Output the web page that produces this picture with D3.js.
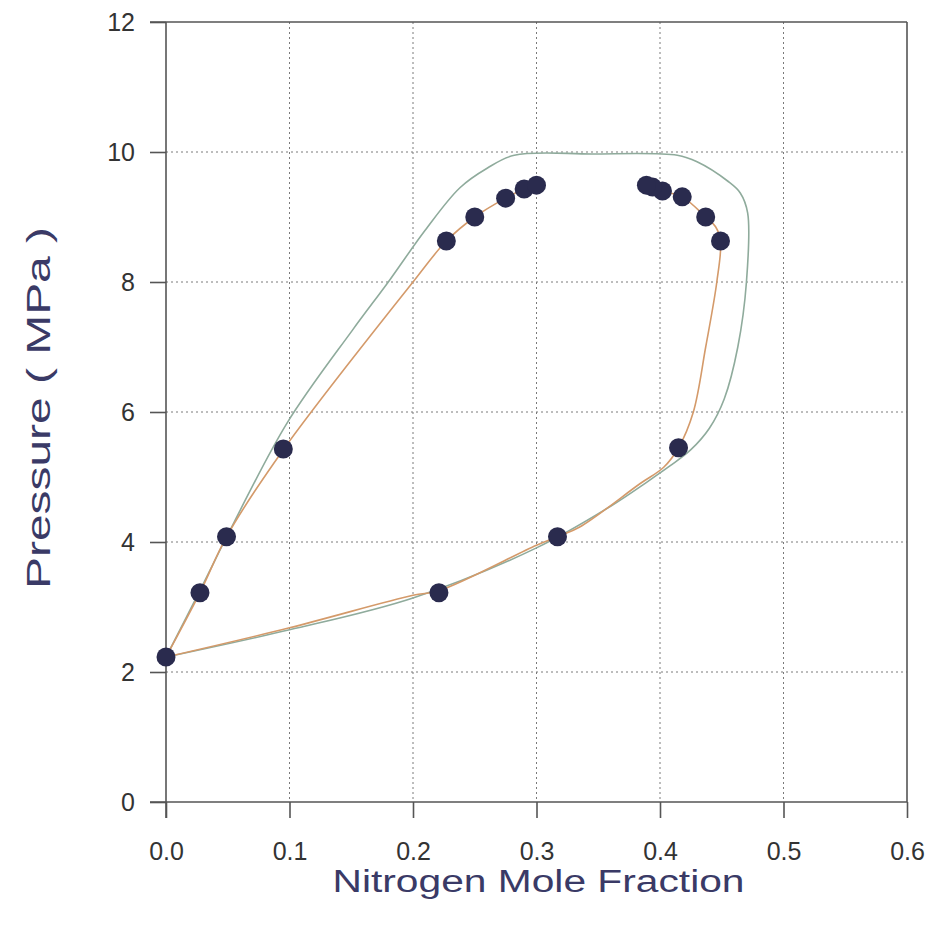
<!DOCTYPE html>
<html>
<head>
<meta charset="utf-8">
<script src="https://cdn.jsdelivr.net/npm/d3@7"></script>
<style>
  body { margin: 0; background: #fff; }
  svg { display: block; }
  .grid line { stroke: #7a7a7a; stroke-width: 1; stroke-dasharray: 2,3; }
  .axis path, .axis line { stroke: #555; stroke-width: 1.6; }
  .axis text { font-family: "Liberation Sans", Arial, sans-serif; font-size: 25px; fill: #333; }
</style>
</head>
<body>
<svg id="canvas" width="944" height="933"></svg>
<script>
        // experimental points: pressure (MPa) vs nitrogen mole fraction
        const liquidP = [2.23, 3.22, 4.08, 5.43, 8.63, 9.0, 9.29, 9.43, 9.49];
        const liquidX = [0.0, 0.0275, 0.049, 0.095, 0.227, 0.250, 0.275, 0.290, 0.300];
        const vaporP = [3.22, 4.08, 5.45, 8.63, 9.0, 9.31, 9.40, 9.46, 9.49];
        const vaporX = [0.221, 0.317, 0.415, 0.449, 0.437, 0.418, 0.402, 0.394, 0.389];

        // model curve 1 (orange)
        const orangeLiqX = [0.0, 0.0275, 0.049, 0.095, 0.200, 0.227, 0.250, 0.275, 0.290, 0.300];
        const orangeLiqP = [2.23, 3.22, 4.08, 5.42, 8.00, 8.63, 9.00, 9.29, 9.43, 9.49];
        const orangeVapX = [0.0, 0.100, 0.200, 0.221, 0.300, 0.317, 0.335, 0.384, 0.403, 0.415, 0.427, 0.437, 0.446, 0.449, 0.445, 0.437, 0.418, 0.402, 0.394, 0.389];
        const orangeVapP = [2.23, 2.68, 3.18, 3.25, 3.95, 4.08, 4.23, 4.90, 5.15, 5.45, 6.00, 7.00, 8.00, 8.63, 8.85, 9.00, 9.31, 9.40, 9.46, 9.49];

        // model curve 2 (green), one closed envelope
        const greenX = [0.0, 0.030, 0.055, 0.098, 0.151, 0.180, 0.210, 0.238, 0.260, 0.282, 0.345, 0.414, 0.430, 0.455, 0.465, 0.471, 0.470, 0.463, 0.452, 0.440, 0.425, 0.408, 0.390, 0.360, 0.300, 0.200, 0.100, 0.0];
        const greenP = [2.23, 3.35, 4.30, 5.83, 7.26, 8.00, 8.80, 9.45, 9.75, 9.95, 9.97, 9.95, 9.85, 9.55, 9.37, 9.06, 8.00, 7.00, 6.20, 5.75, 5.42, 5.17, 4.93, 4.55, 3.91, 3.14, 2.65, 2.23];

        const xTicks = [0, 0.1, 0.2, 0.3, 0.4, 0.5, 0.6];
        const yTicks = [0, 2, 4, 6, 8, 10, 12];

        const svg = d3.select("#canvas");
        const x = d3.scaleLinear().domain([0, 0.6]).range([166, 907]);
        const y = d3.scaleLinear().domain([0, 12]).range([802, 22]);

        // dotted grid
        const grid = svg.append("g").attr("class", "grid");
        grid.selectAll(".gx").data(xTicks.slice(1, -1)).enter().append("line")
            .attr("x1", d => x(d)).attr("x2", d => x(d)).attr("y1", y(12)).attr("y2", y(0));
        grid.selectAll(".gy").data(yTicks.slice(1, -1)).enter().append("line")
            .attr("x1", x(0)).attr("x2", x(0.6)).attr("y1", d => y(d)).attr("y2", d => y(d));

        // frame top and right
        svg.append("line").attr("x1", x(0) - 16).attr("x2", x(0.6)).attr("y1", y(12)).attr("y2", y(12))
            .attr("stroke", "#555").attr("stroke-width", 1.6);
        svg.append("line").attr("x1", x(0.6)).attr("x2", x(0.6)).attr("y1", y(12)).attr("y2", y(0))
            .attr("stroke", "#555").attr("stroke-width", 1.6);

        const xAxis = svg.append("g").attr("class", "axis")
            .attr("transform", `translate(0,${y(0)})`)
            .call(d3.axisBottom(x).tickValues(xTicks).tickFormat(d3.format(".1f")).tickSize(16).tickSizeOuter(0).tickPadding(24));
        xAxis.select(".domain").attr("d", `M${x(0) - 16},0H${x(0.6)}`);

        const yAxis = svg.append("g").attr("class", "axis")
            .attr("transform", `translate(${x(0)},0)`)
            .call(d3.axisLeft(y).tickValues(yTicks).tickFormat(d3.format("d")).tickSize(16).tickSizeOuter(0).tickPadding(15));
        yAxis.select(".domain").attr("d", `M0,${y(12)}V${y(0) + 16}`);

        // model curves
        const line = d3.line().x(d => x(d[0])).y(d => y(d[1])).curve(d3.curveCatmullRom.alpha(0.5));
        const zip = (a, b) => a.map((v, i) => [v, b[i]]);

        svg.append("path").datum(zip(greenX, greenP))
            .attr("fill", "none").attr("stroke", "#8fab9c").attr("stroke-width", 1.6).attr("d", line);
        svg.append("path").datum(zip(orangeLiqX, orangeLiqP))
            .attr("fill", "none").attr("stroke", "#d49a6a").attr("stroke-width", 1.6).attr("d", line);
        svg.append("path").datum(zip(orangeVapX, orangeVapP))
            .attr("fill", "none").attr("stroke", "#d49a6a").attr("stroke-width", 1.6).attr("d", line);

        // data points
        const pts = zip(liquidX, liquidP).concat(zip(vaporX, vaporP));
        svg.selectAll(".pt").data(pts).enter().append("circle")
            .attr("cx", d => x(d[0])).attr("cy", d => y(d[1])).attr("r", 9.5)
            .attr("fill", "#2a2b4e");

        // axis titles
        svg.append("text")
            .attr("x", (x(0) + x(0.6)) / 2 + 2).attr("y", 892)
            .attr("text-anchor", "middle")
            .attr("font-family", "Liberation Sans, Arial, sans-serif").attr("font-size", 31)
            .attr("fill", "#3a3a66")
            .attr("textLength", 412).attr("lengthAdjust", "spacingAndGlyphs")
            .text("Nitrogen Mole Fraction");

        svg.append("text")
            .attr("transform", "translate(50,408) rotate(-90)")
            .attr("text-anchor", "middle")
            .attr("font-family", "Liberation Sans, Arial, sans-serif").attr("font-size", 33)
            .attr("fill", "#3a3a66")
            .attr("textLength", 362).attr("lengthAdjust", "spacingAndGlyphs")
            .text("Pressure ( MPa )");
</script>
</body>
</html>
